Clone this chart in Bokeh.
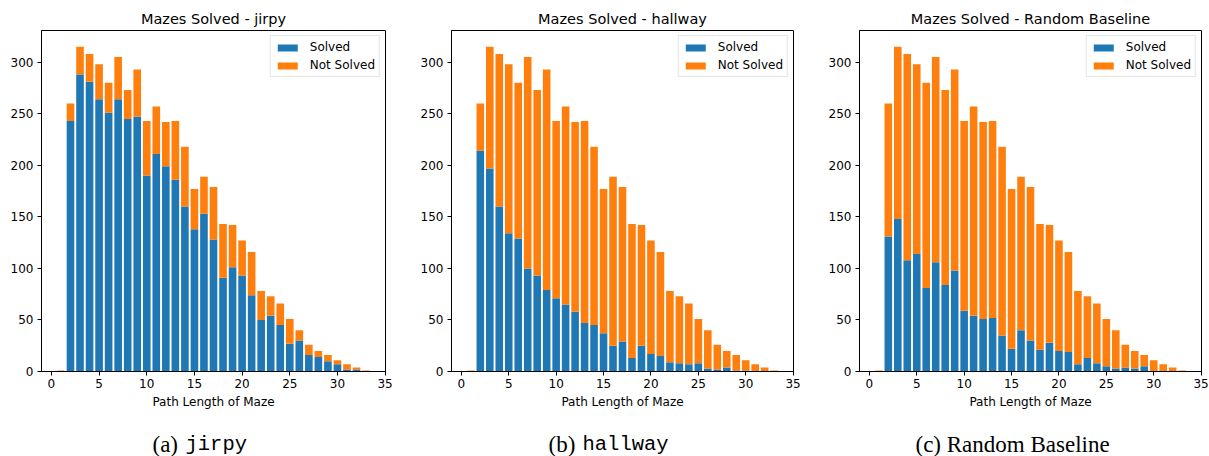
from bokeh.plotting import figure
from bokeh.layouts import row, column
from bokeh.models import Range1d, FixedTicker, Label, Legend, LegendItem, ColumnDataSource
from bokeh.embed import file_html
from bokeh.resources import INLINE

# ---------------- data ----------------
path_length = list(range(1, 34))
total_mazes = [1, 260, 315, 308, 298, 280, 305, 273, 293, 243, 257, 242, 243, 218, 177,
               189, 179, 143, 142, 127, 116, 78, 73, 66, 51, 40, 26, 20, 16, 11, 7, 4, 1]
solved_jirpy = [0, 243, 288, 281, 264, 251, 264, 245, 247, 190, 211, 199, 186, 160, 138,
                153, 128, 91, 101, 93, 74, 50, 54, 45, 27, 30, 16, 14, 10, 7, 2, 2, 0]
solved_hallway = [0, 214, 197, 160, 134, 129, 100, 93, 79, 71, 65, 58, 47, 45, 37,
                  25, 29, 13, 25, 17, 15, 9, 8, 7, 8, 3, 2, 4, 1, 1, 0, 0, 0]
solved_random = [0, 131, 148, 108, 114, 81, 106, 84, 98, 59, 54, 51, 52, 35, 22,
                 40, 30, 21, 28, 20, 19, 7, 13, 8, 5, 3, 4, 3, 5, 0, 0, 0, 0]
titles = ["Mazes Solved - jirpy", "Mazes Solved - hallway", "Mazes Solved - Random Baseline"]
captions_serif = ["(a)", "(b)", "(c) Random Baseline"]
captions_mono = ["jirpy", "hallway", ""]
legend_labels = ["Solved", "Not Solved"]
x_ticks = [0, 5, 10, 15, 20, 25, 30, 35]
y_ticks = [0, 50, 100, 150, 200, 250, 300]
x_label = "Path Length of Maze"

BLUE = "#1f77b4"
ORANGE = "#ff7f0e"
X0, X1 = -1.04, 35.04
Y0, Y1 = 0, 330.75
W = 1209
H_TOP = 415
H_CAP = 456 - H_TOP
TOP, BOTTOM = 30, H_TOP - 371


def panel(title, solved, width, bl, br):
    not_solved = [t - s for t, s in zip(total_mazes, solved)]
    src = ColumnDataSource(dict(x=path_length, solved=solved, not_solved=not_solved))
    p = figure(width=width, height=H_TOP, x_range=Range1d(X0, X1), y_range=Range1d(Y0, Y1),
               output_backend="svg", toolbar_location=None,
               min_border_left=bl, min_border_right=br,
               min_border_top=TOP, min_border_bottom=BOTTOM)
    rs = p.vbar_stack(["solved", "not_solved"], x="x", width=0.8, source=src,
                      color=[BLUE, ORANGE], line_color=None)
    p.title.text = title
    p.title.align = "center"
    p.title.text_font = "DejaVu Sans"
    p.title.text_font_size = "14.5px"
    p.title.text_font_style = "normal"
    p.title.text_color = "black"
    p.title.standoff = 7
    p.xgrid.visible = False
    p.ygrid.visible = False
    p.outline_line_color = "black"
    p.outline_line_alpha = 1
    p.outline_line_width = 1
    for ax in (p.xaxis[0], p.yaxis[0]):
        ax.axis_line_color = "black"
        ax.major_tick_line_color = "black"
        ax.minor_tick_line_color = None
        ax.major_tick_in = 0
        ax.major_tick_out = 4
        ax.major_label_text_font = "DejaVu Sans"
        ax.major_label_text_font_size = "12px"
        ax.major_label_text_color = "black"
    p.xaxis.ticker = FixedTicker(ticks=x_ticks)
    p.yaxis.ticker = FixedTicker(ticks=y_ticks)
    p.xaxis.major_label_standoff = 3
    p.yaxis.major_label_standoff = 4
    p.xaxis.axis_label = x_label
    p.xaxis.axis_label_text_font = "DejaVu Sans"
    p.xaxis.axis_label_text_font_size = "12px"
    p.xaxis.axis_label_text_font_style = "normal"
    p.xaxis.axis_label_text_color = "black"
    p.xaxis.axis_label_standoff = 4

    legend = Legend(items=[LegendItem(label=legend_labels[0], renderers=[rs[0]]),
                           LegendItem(label=legend_labels[1], renderers=[rs[1]])],
                    location="top_right", margin=5, padding=4, spacing=4,
                    glyph_width=25, glyph_height=9, label_height=14, label_standoff=10,
                    label_text_font="DejaVu Sans", label_text_font_size="12px",
                    label_text_color="black",
                    border_line_color="#cccccc", border_line_width=1,
                    background_fill_alpha=0.8)
    p.add_layout(legend)
    return p


p1 = panel(titles[0], solved_jirpy, 417, 41, 32)
p2 = panel(titles[1], solved_hallway, 408, 32, 32)
p3 = panel(titles[2], solved_random, 384, 31, 8)

# caption strip below the three charts (coordinates are pixels within the strip)
cap = figure(width=W, height=H_CAP, x_range=Range1d(0, W), y_range=Range1d(0, H_CAP),
             output_backend="svg", toolbar_location=None, x_axis_type=None, y_axis_type=None,
             min_border_left=0, min_border_right=0, min_border_top=0, min_border_bottom=0)
cap.outline_line_color = None
cap.xgrid.visible = False
cap.ygrid.visible = False
serif_x = [152, 548, 915]
mono_x = [185, 582, 0]
mid_y = 12
for sx, mx, st, mt in zip(serif_x, mono_x, captions_serif, captions_mono):
    cap.add_layout(Label(x=sx, y=mid_y, text=st, text_font="Liberation Serif",
                         text_font_size="23px", text_baseline="middle", text_color="black"))
    if mt:
        cap.add_layout(Label(x=mx, y=mid_y, text=mt, text_font="Liberation Mono",
                             text_font_size="20.5px", text_baseline="middle",
                             text_color="black"))

layout = column(row(p1, p2, p3, spacing=0), cap, spacing=0)
open("out.html", "w").write(file_html(layout, INLINE))
